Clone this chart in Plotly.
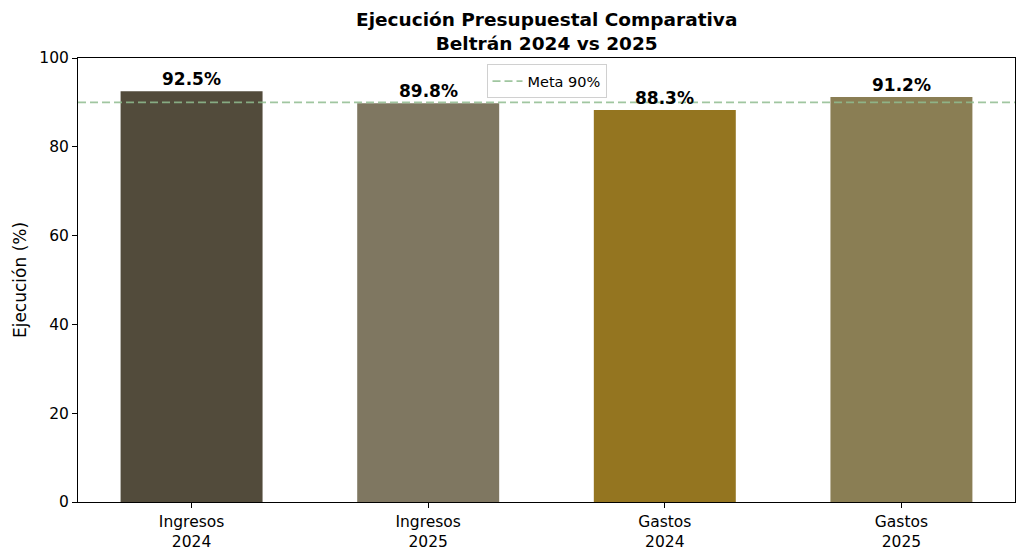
import plotly.graph_objects as go

categories = ["Ingresos<br>2024", "Ingresos<br>2025", "Gastos<br>2024", "Gastos<br>2025"]
ejecucion = [92.5, 89.8, 88.3, 91.2]
bar_colors = ["#524b3b", "#7f7761", "#947520", "#8a7e54"]
meta = 90
y_ticks = [0, 20, 40, 60, 80, 100]

x_pos = list(range(len(categories)))
font_family = "DejaVu Sans"

fig = go.Figure()

fig.add_trace(go.Bar(
    x=x_pos,
    y=ejecucion,
    width=0.6,
    marker=dict(color=bar_colors, line=dict(width=0)),
    showlegend=False,
    hoverinfo="y",
))

# línea de meta, como traza para que salga en la leyenda
fig.add_trace(go.Scatter(
    x=[-0.48, 3.48],
    y=[meta, meta],
    mode="lines",
    name=f"Meta {meta}%",
    line=dict(color="rgba(143,188,143,0.85)", width=1.6, dash="8px,4px"),
))

for x, v in zip(x_pos, ejecucion):
    fig.add_annotation(
        x=x, y=v, text=f"<b>{v:.1f}%</b>",
        showarrow=False, yanchor="bottom", yshift=0,
        font=dict(size=17, color="black", family=font_family),
    )

# título como anotación (el título multilínea se corta arriba)
fig.add_annotation(
    x=0.5, y=1, xref="paper", yref="paper",
    text="<b>Ejecución Presupuestal Comparativa<br>Beltrán 2024 vs 2025</b>",
    showarrow=False, xanchor="center", yanchor="bottom", yshift=2,
    font=dict(size=18.5, color="black", family=font_family),
)

# la página añade 8px de margen al body, se compensa aquí
fig.update_layout(
    width=1012,
    height=547,
    font=dict(family=font_family, color="black", size=15),
    plot_bgcolor="white",
    paper_bgcolor="white",
    margin=dict(l=70, r=4, t=50, b=48),
    xaxis=dict(
        range=[-0.48, 3.48],
        tickvals=x_pos,
        ticktext=categories,
        showgrid=False,
        zeroline=False,
        showline=True, mirror=True, linecolor="black", linewidth=1,
        ticks="outside", ticklen=5, tickcolor="black",
        tickfont=dict(size=15.5),
    ),
    yaxis=dict(
        title=dict(text="Ejecución (%)", font=dict(size=17), standoff=8),
        range=[0, 100],
        tickvals=y_ticks,
        showgrid=False,
        zeroline=False,
        showline=True, mirror=True, linecolor="black", linewidth=1,
        ticks="outside", ticklen=5, tickcolor="black",
        tickfont=dict(size=15.5),
    ),
    legend=dict(
        x=0.5, xanchor="center", y=0.986, yanchor="top",
        bgcolor="rgba(255,255,255,0.8)",
        bordercolor="#d0d0d0", borderwidth=1,
        font=dict(size=14.5),
    ),
)

fig.write_html("out.html")
